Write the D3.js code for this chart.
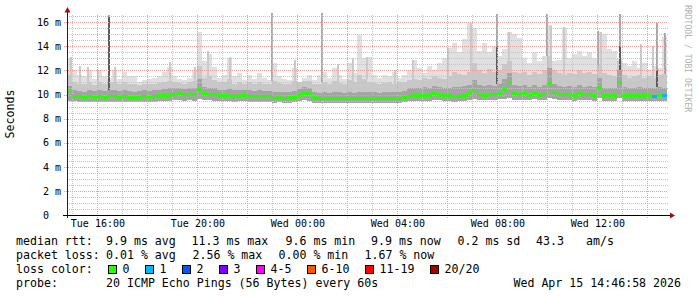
<!DOCTYPE html>
<html>
<head>
<meta charset="utf-8">
<script src="https://cdn.jsdelivr.net/npm/d3@7"></script>
<style>
  html, body { margin: 0; padding: 0; background: #fff; }
  svg { display: block; font-family: "DejaVu Sans Mono", monospace; }
</style>
</head>
<body>
<svg id="chart" width="697" height="297"></svg>
<script>
// smokeping style latency graph, last 24 hours, one column = 12 minutes

const startTime = new Date(2026, 3, 14, 14, 47, 0);
const endTime = new Date(2026, 3, 15, 14, 47, 0);
const stepMinutes = 12;

// values in ms
const medianRtt = [
  10.3, 9.85, 9.8, 9.78, 9.82, 9.78, 9.8, 9.74, 9.8, 9.8,
  9.78, 9.8, 9.76, 9.74, 9.78, 9.8, 9.78, 9.84, 9.88, 9.92,
  9.95, 10.0, 10.08, 9.98, 10.02, 9.98, 10.4, 10.05, 10.02, 9.98,
  9.9, 9.88, 9.92, 9.86, 9.88, 9.9, 9.86, 9.84, 9.86, 9.82,
  9.8, 9.68, 9.74, 9.7, 9.72, 9.75, 9.9, 10.1, 10.05, 9.72,
  9.66, 9.68, 9.64, 9.66, 9.68, 9.65, 9.67, 9.64, 9.66, 9.65,
  9.66, 9.67, 9.65, 9.68, 9.7, 9.68, 9.7, 9.74, 9.86, 9.9,
  9.88, 9.92, 9.9, 10.05, 9.96, 9.92, 9.88, 9.8, 9.86, 9.9,
  10.08, 10.3, 10.0, 9.96, 10.02, 9.98, 10.1, 10.4, 11.0, 10.05,
  10.0, 10.05, 9.95, 10.1, 9.95, 10.0, 10.9, 10.15, 10.0, 9.98,
  10.02, 9.95, 10.05, 9.98, 10.0, 9.95, 10.6, 9.9, 9.88, 9.9,
  11.0, 9.9, 9.88, 9.9, 9.92, 9.88, 9.9, 9.86, 9.95, 9.92
];
const minRtt = [
  9.5, 9.45, 9.4, 9.4, 9.42, 9.38, 9.4, 9.36, 9.4, 9.42,
  9.38, 9.4, 9.36, 9.35, 9.38, 9.4, 9.38, 9.42, 9.45, 9.48,
  9.5, 9.52, 9.55, 9.5, 9.52, 9.5, 9.6, 9.55, 9.52, 9.5,
  9.45, 9.44, 9.46, 9.42, 9.44, 9.45, 9.42, 9.4, 9.42, 9.4,
  9.38, 9.3, 9.34, 9.32, 9.33, 9.35, 9.45, 9.55, 9.5, 9.32,
  9.28, 9.3, 9.26, 9.28, 9.3, 9.27, 9.3, 9.26, 9.28, 9.27,
  9.28, 9.3, 9.28, 9.3, 9.32, 9.3, 9.32, 9.35, 9.45, 9.5,
  9.48, 9.5, 9.5, 9.58, 9.52, 9.5, 9.45, 9.4, 9.44, 9.48,
  9.58, 9.65, 9.56, 9.52, 9.56, 9.54, 9.6, 9.65, 9.7, 9.58,
  9.55, 9.58, 9.52, 9.6, 9.52, 9.55, 9.75, 9.62, 9.55, 9.54,
  9.56, 9.5, 9.56, 9.52, 9.55, 9.5, 9.7, 9.48, 9.46, 9.48,
  9.75, 9.48, 9.46, 9.48, 9.5, 9.46, 9.48, 9.45, 9.5, 9.48
];
const q75Rtt = [
  10.7, 10.4, 10.3, 10.25, 10.35, 10.3, 10.4, 10.3, 10.4, 10.35,
  10.3, 10.35, 10.3, 10.25, 10.3, 10.35, 10.3, 10.35, 10.4, 10.45,
  10.5, 10.5, 10.55, 10.45, 10.5, 10.5, 11.3, 10.6, 10.55, 10.5,
  10.4, 10.35, 10.45, 10.35, 10.4, 10.4, 10.35, 10.3, 10.35, 10.3,
  10.3, 10.25, 10.25, 10.2, 10.25, 10.3, 10.45, 10.6, 10.55, 10.25,
  10.15, 10.2, 10.15, 10.2, 10.2, 10.15, 10.2, 10.15, 10.25, 10.2,
  10.2, 10.2, 10.15, 10.2, 10.25, 10.2, 10.25, 10.3, 10.5, 10.55,
  10.5, 10.6, 10.55, 10.7, 10.6, 10.55, 10.5, 10.6, 10.65, 10.7,
  10.8, 11.2, 10.75, 10.7, 10.8, 10.7, 10.9, 11.3, 11.8, 10.8,
  10.7, 10.75, 10.6, 10.8, 10.65, 10.8, 12.2, 10.9, 10.7, 10.65,
  10.7, 10.6, 10.75, 10.65, 10.7, 10.6, 11.4, 10.55, 10.5, 10.55,
  12.0, 10.6, 10.5, 10.55, 10.6, 10.5, 10.55, 10.5, 10.6, 10.55
];
const q90Rtt = [
  11.6, 11.0, 10.9, 10.85, 11.0, 10.8, 11.0, 10.9, 11.0, 11.0,
  10.85, 11.0, 10.9, 10.9, 10.8, 10.85, 10.9, 10.9, 10.95, 11.0,
  11.1, 11.0, 10.95, 10.9, 11.0, 11.1, 12.4, 11.4, 11.5, 11.2,
  11.0, 11.0, 11.3, 10.9, 11.0, 10.85, 11.0, 10.9, 11.0, 10.9,
  10.9, 11.1, 10.95, 10.85, 10.9, 11.1, 11.0, 11.1, 11.1, 10.85,
  10.9, 11.0, 10.9, 11.1, 10.95, 10.9, 11.2, 11.0, 11.6, 11.3,
  11.0, 10.95, 10.9, 10.95, 11.0, 10.9, 11.0, 11.05, 11.2, 11.3,
  11.2, 11.4, 11.3, 11.5, 11.4, 11.3, 11.5, 11.9, 11.7, 11.6,
  11.9, 12.6, 12.0, 11.8, 12.1, 11.9, 12.0, 12.5, 12.8, 11.9,
  11.8, 11.9, 11.6, 11.9, 11.7, 12.0, 13.2, 12.0, 11.8, 11.6,
  11.8, 11.7, 12.0, 11.8, 11.9, 11.7, 12.4, 11.8, 11.6, 11.5,
  12.8, 11.6, 11.4, 11.5, 11.6, 11.4, 11.5, 11.4, 11.6, 11.7
];
const maxRtt = [
  13.0, 12.0, 11.6, 11.5, 12.0, 11.3, 12.0, 11.5, 11.4, 12.0,
  11.3, 11.9, 11.5, 11.5, 11.0, 11.2, 11.3, 11.4, 11.5, 11.9,
  12.3, 11.5, 11.3, 11.2, 11.4, 12.0, 15.2, 12.8, 13.4, 12.3,
  11.4, 11.6, 13.0, 11.5, 11.8, 11.2, 11.6, 11.3, 11.8, 11.4,
  11.2, 12.6, 11.5, 11.3, 11.2, 12.2, 11.0, 11.4, 11.6, 11.2,
  11.6, 11.9, 11.4, 12.2, 11.6, 11.3, 12.6, 11.8, 14.9, 13.0,
  13.1, 11.6, 11.4, 11.6, 11.5, 11.9, 11.4, 11.6, 12.0, 12.9,
  12.2, 11.8, 12.4, 12.0, 12.6, 13.0, 13.9, 14.3, 13.5, 14.6,
  15.9, 15.5, 13.6, 14.3, 13.5, 14.0, 13.2, 13.8, 15.2, 15.0,
  14.7, 13.0, 12.6, 13.5, 12.8, 13.2, 15.8, 12.8, 12.9, 15.5,
  13.0, 13.4, 13.6, 13.2, 13.5, 13.0, 15.2, 15.0, 13.8, 13.6,
  13.0, 12.6, 12.4, 12.8, 12.2, 12.6, 12.0, 12.4, 12.2, 14.8
];
// lost pings out of 20 per column
const lossCount = [
  0, 0, 0, 0, 0, 0, 0, 0, 0, 0,  0, 0, 0, 0, 0, 0, 0, 0, 0, 0,
  0, 0, 0, 0, 0, 0, 0, 0, 0, 0,  0, 0, 0, 0, 0, 0, 0, 0, 0, 0,
  0, 0, 0, 0, 0, 0, 0, 0, 0, 0,  0, 0, 0, 0, 0, 0, 0, 0, 0, 0,
  0, 0, 0, 0, 0, 0, 0, 0, 0, 0,  0, 0, 0, 0, 0, 0, 0, 0, 0, 0,
  0, 0, 0, 0, 0, 0, 0, 0, 0, 0,  0, 0, 0, 0, 0, 0, 0, 0, 0, 0,
  0, 0, 0, 0, 0, 0, 0, 0, 0, 0,  0, 0, 0, 0, 0, 0, 0, 1, 0, 1
];

// short single sample peaks (minutes after start)
const spikeMinute = [101, 492, 612, 1032, 1152, 1274, 1327, 1416, 1435];
const spikeMax = [16.6, 16.8, 16.8, 16.7, 16.7, 15.3, 16.7, 15.9, 15.1];
const spikeDense = [16.4, 0, 0, 14.0, 12.0, 0, 14.0, 12.0, 0];
// faint single ping peaks
const faintMinute = [7, 29, 48, 72, 113, 245, 305, 336, 389, 545, 648, 684, 718, 785, 828, 912, 967, 1058, 1159, 1190, 1279, 1375, 1404];
const faintMax = [13.1, 12.4, 12.3, 12.0, 12.3, 12.7, 12.3, 13.6, 13.1, 12.9, 12.5, 13.0, 13.1, 12.0, 12.9, 13.9, 15.9, 15.2, 15.7, 15.6, 15.2, 14.2, 14.0];

const yTicks = [0, 2, 4, 6, 8, 10, 12, 14, 16];
const lossLabels = ["0", "1", "2", "3", "4-5", "6-10", "11-19", "20/20"];
const lossColors = ["#26ff00", "#00b8ff", "#0059ff", "#7e00ff", "#ff00ff", "#ff5500", "#ff0000", "#a00000"];

const rttLegend = ["median rtt:", "9.9 ms avg", "11.3 ms max", "9.6 ms min", "9.9 ms now", "0.2 ms sd", "43.3", "am/s"];
const lossLegend = ["packet loss:", "0.01 % avg", "2.56 % max", "0.00 % min", "1.67 % now"];
const probeText = "20 ICMP Echo Pings (56 Bytes) every 60s";
const stampText = "Wed Apr 15 14:46:58 2026";

const svg = d3.select("#chart");
const plotL = 67, plotR = 667, plotT = 15, plotB = 215;

let x = d3.scaleTime().domain([startTime, endTime]).range([plotL, plotR]);
let y = d3.scaleLinear().domain([0, 16.6]).range([plotB, plotT]);
let lossColor = d3.scaleThreshold().domain([1, 2, 3, 4, 6, 11, 20]).range(lossColors);

const colTime = i => d3.timeMinute.offset(startTime, i * stepMinutes);
const cols = medianRtt.map((m, i) => ({
  x0: x(colTime(i)), x1: x(colTime(i + 1)),
  med: m, lo: minRtt[i], q75: q75Rtt[i], q90: q90Rtt[i], hi: maxRtt[i], loss: lossCount[i]
}));
const colAt = m => cols[Math.min(cols.length - 1, Math.floor(m / stepMinutes))];

// smoke
const smoke = svg.append("g").attr("shape-rendering", "crispEdges");
smoke.append("g").selectAll("rect").data(cols).join("rect")
  .attr("x", d => d.x0).attr("width", d => d.x1 - d.x0 + 0.3)
  .attr("y", d => y(d.hi)).attr("height", d => y(d.lo) - y(d.hi))
  .attr("fill", "#e0e0e0");

const faint = faintMinute.map((m, i) => ({ x: x(d3.timeMinute.offset(startTime, m)), max: faintMax[i], base: colAt(m).q90 }));
smoke.append("g").selectAll("rect").data(faint).join("rect")
  .attr("x", d => Math.round(d.x)).attr("width", 1.5)
  .attr("y", d => y(d.max)).attr("height", d => y(d.base) - y(d.max))
  .attr("fill", "#cacaca");

[["q90", "#c8c8c8"], ["q75", "#a4a4a4"]].forEach(([k, c]) => {
  smoke.append("g").selectAll("rect").data(cols).join("rect")
    .attr("x", d => d.x0).attr("width", d => d.x1 - d.x0 + 0.3)
    .attr("y", d => y(d[k])).attr("height", d => y(d.lo) - y(d[k]))
    .attr("fill", c);
});

const spikes = spikeMinute.map((m, i) => {
  const c = colAt(m);
  return { x: x(d3.timeMinute.offset(startTime, m)), max: spikeMax[i], dense: spikeDense[i], base: c.q90, dbase: c.q75 };
});
smoke.append("g").selectAll("rect").data(spikes).join("rect")
  .attr("x", d => Math.round(d.x) - 1).attr("width", 2)
  .attr("y", d => y(d.max)).attr("height", d => y(d.base) - y(d.max))
  .attr("fill", "#a8a8a8");
smoke.append("g").selectAll("rect").data(spikes.filter(d => d.dense > 0)).join("rect")
  .attr("x", d => Math.round(d.x) - 1).attr("width", 2)
  .attr("y", d => y(d.dense)).attr("height", d => y(d.dbase) - y(d.dense))
  .attr("fill", "#5c5c5c");

// grid
const grid = svg.append("g").attr("stroke-dasharray", "1,1").attr("shape-rendering", "crispEdges");
const minorY = d3.range(0.5, 16.6, 0.5).filter(v => v % 2 !== 0);
grid.selectAll(".ym").data(minorY).join("line")
  .attr("x1", plotL).attr("x2", plotR + 1)
  .attr("y1", d => Math.round(y(d)) + 0.5).attr("y2", d => Math.round(y(d)) + 0.5)
  .attr("stroke", "#c4c4c4");
const hours = x.ticks(d3.timeHour.every(1));
grid.selectAll(".xm").data(hours.filter(t => t.getHours() % 2)).join("line")
  .attr("x1", d => Math.round(x(d)) + 0.5).attr("x2", d => Math.round(x(d)) + 0.5)
  .attr("y1", plotT).attr("y2", plotB)
  .attr("stroke", "#c4c4c4");
grid.selectAll(".yM").data(yTicks.slice(1)).join("line")
  .attr("x1", plotL - 3).attr("x2", plotR + 1)
  .attr("y1", d => Math.round(y(d)) + 0.5).attr("y2", d => Math.round(y(d)) + 0.5)
  .attr("stroke", "#f09c9c");
grid.selectAll(".xM").data(hours.filter(t => t.getHours() % 2 === 0)).join("line")
  .attr("x1", d => Math.round(x(d)) + 0.5).attr("x2", d => Math.round(x(d)) + 0.5)
  .attr("y1", plotT).attr("y2", plotB + 3)
  .attr("stroke", "#f09c9c");

// median coloured by loss
svg.append("g").attr("shape-rendering", "crispEdges").selectAll("rect").data(cols).join("rect")
  .attr("x", d => d.x0).attr("width", d => d.x1 - d.x0 + 0.3)
  .attr("y", d => y(d.med) - 1.5).attr("height", 3)
  .attr("fill", d => lossColor(d.loss));

// axes
const axes = svg.append("g").attr("shape-rendering", "crispEdges");
axes.append("line").attr("x1", plotL + 0.5).attr("x2", plotL + 0.5).attr("y1", plotB + 3).attr("y2", 10).attr("stroke", "#222");
axes.append("line").attr("x1", plotL - 4).attr("x2", plotR + 4).attr("y1", plotB + 0.5).attr("y2", plotB + 0.5).attr("stroke", "#000");
svg.append("path").attr("d", `M${plotL - 2.5},12.5 L${plotL + 3.5},12.5 L${plotL + 0.5},7 Z`).attr("fill", "#a01010");
svg.append("path").attr("d", `M${plotR + 3},${plotB - 2.5} L${plotR + 3},${plotB + 3.5} L${plotR + 8},${plotB + 0.5} Z`).attr("fill", "#a01010");

const yAxis = d3.axisLeft(y).tickValues(yTicks).tickSize(0).tickPadding(6)
  .tickFormat(v => v === 0 ? "0  " : v + " m");
svg.append("g").attr("transform", `translate(${plotL},0)`).call(yAxis)
  .call(g => g.select(".domain").remove())
  .selectAll("text").attr("font-family", "DejaVu Sans Mono").attr("font-size", 10)
  .attr("fill", "#000").style("white-space", "pre");

const xAxis = d3.axisBottom(x).ticks(d3.timeHour.every(4)).tickSize(0).tickPadding(5)
  .tickFormat(d3.timeFormat("%a %H:%M"));
svg.append("g").attr("transform", `translate(0,${plotB})`).call(xAxis)
  .call(g => g.select(".domain").remove())
  .selectAll("text").attr("font-family", "DejaVu Sans Mono").attr("font-size", 10).attr("fill", "#000");

svg.append("text").attr("transform", "translate(14,114) rotate(-90)")
  .attr("text-anchor", "middle").attr("font-size", 11.6).text("Seconds");
svg.append("text").attr("transform", "translate(685,5) rotate(90)")
  .attr("font-size", 8.1).attr("fill", "#b0b0b0").text("RRDTOOL / TOBI OETIKER");

// legend
const legend = svg.append("g").attr("font-size", 11.6).attr("fill", "#000");
const rttX = [16, 106, 191.5, 285.5, 371, 457.5, 536, 586];
const lossX = [16, 106, 192.5, 278.5, 364.5];
legend.selectAll(".r1").data(rttLegend).join("text")
  .attr("x", (d, i) => rttX[i]).attr("y", 245).style("white-space", "pre").text(d => d);
legend.selectAll(".r2").data(lossLegend).join("text")
  .attr("x", (d, i) => lossX[i]).attr("y", 259).style("white-space", "pre").text(d => d);
legend.append("text").attr("x", 16).attr("y", 273).text("loss color:");
let sx = 108;
lossLabels.forEach((lab, i) => {
  legend.append("rect").attr("x", sx + 0.5).attr("y", 265.5).attr("width", 8).attr("height", 8)
    .attr("fill", lossColors[i]).attr("stroke", "#000").attr("shape-rendering", "crispEdges");
  legend.append("text").attr("x", sx + 14.5).attr("y", 273).text(lab);
  sx += 30 + 7 * lab.length;
});
legend.append("text").attr("x", 16).attr("y", 287).text("probe:");
legend.append("text").attr("x", 106).attr("y", 287).text(probeText);
legend.append("text").attr("x", 681).attr("y", 287).attr("text-anchor", "end").text(stampText);
</script>
</body>
</html>
